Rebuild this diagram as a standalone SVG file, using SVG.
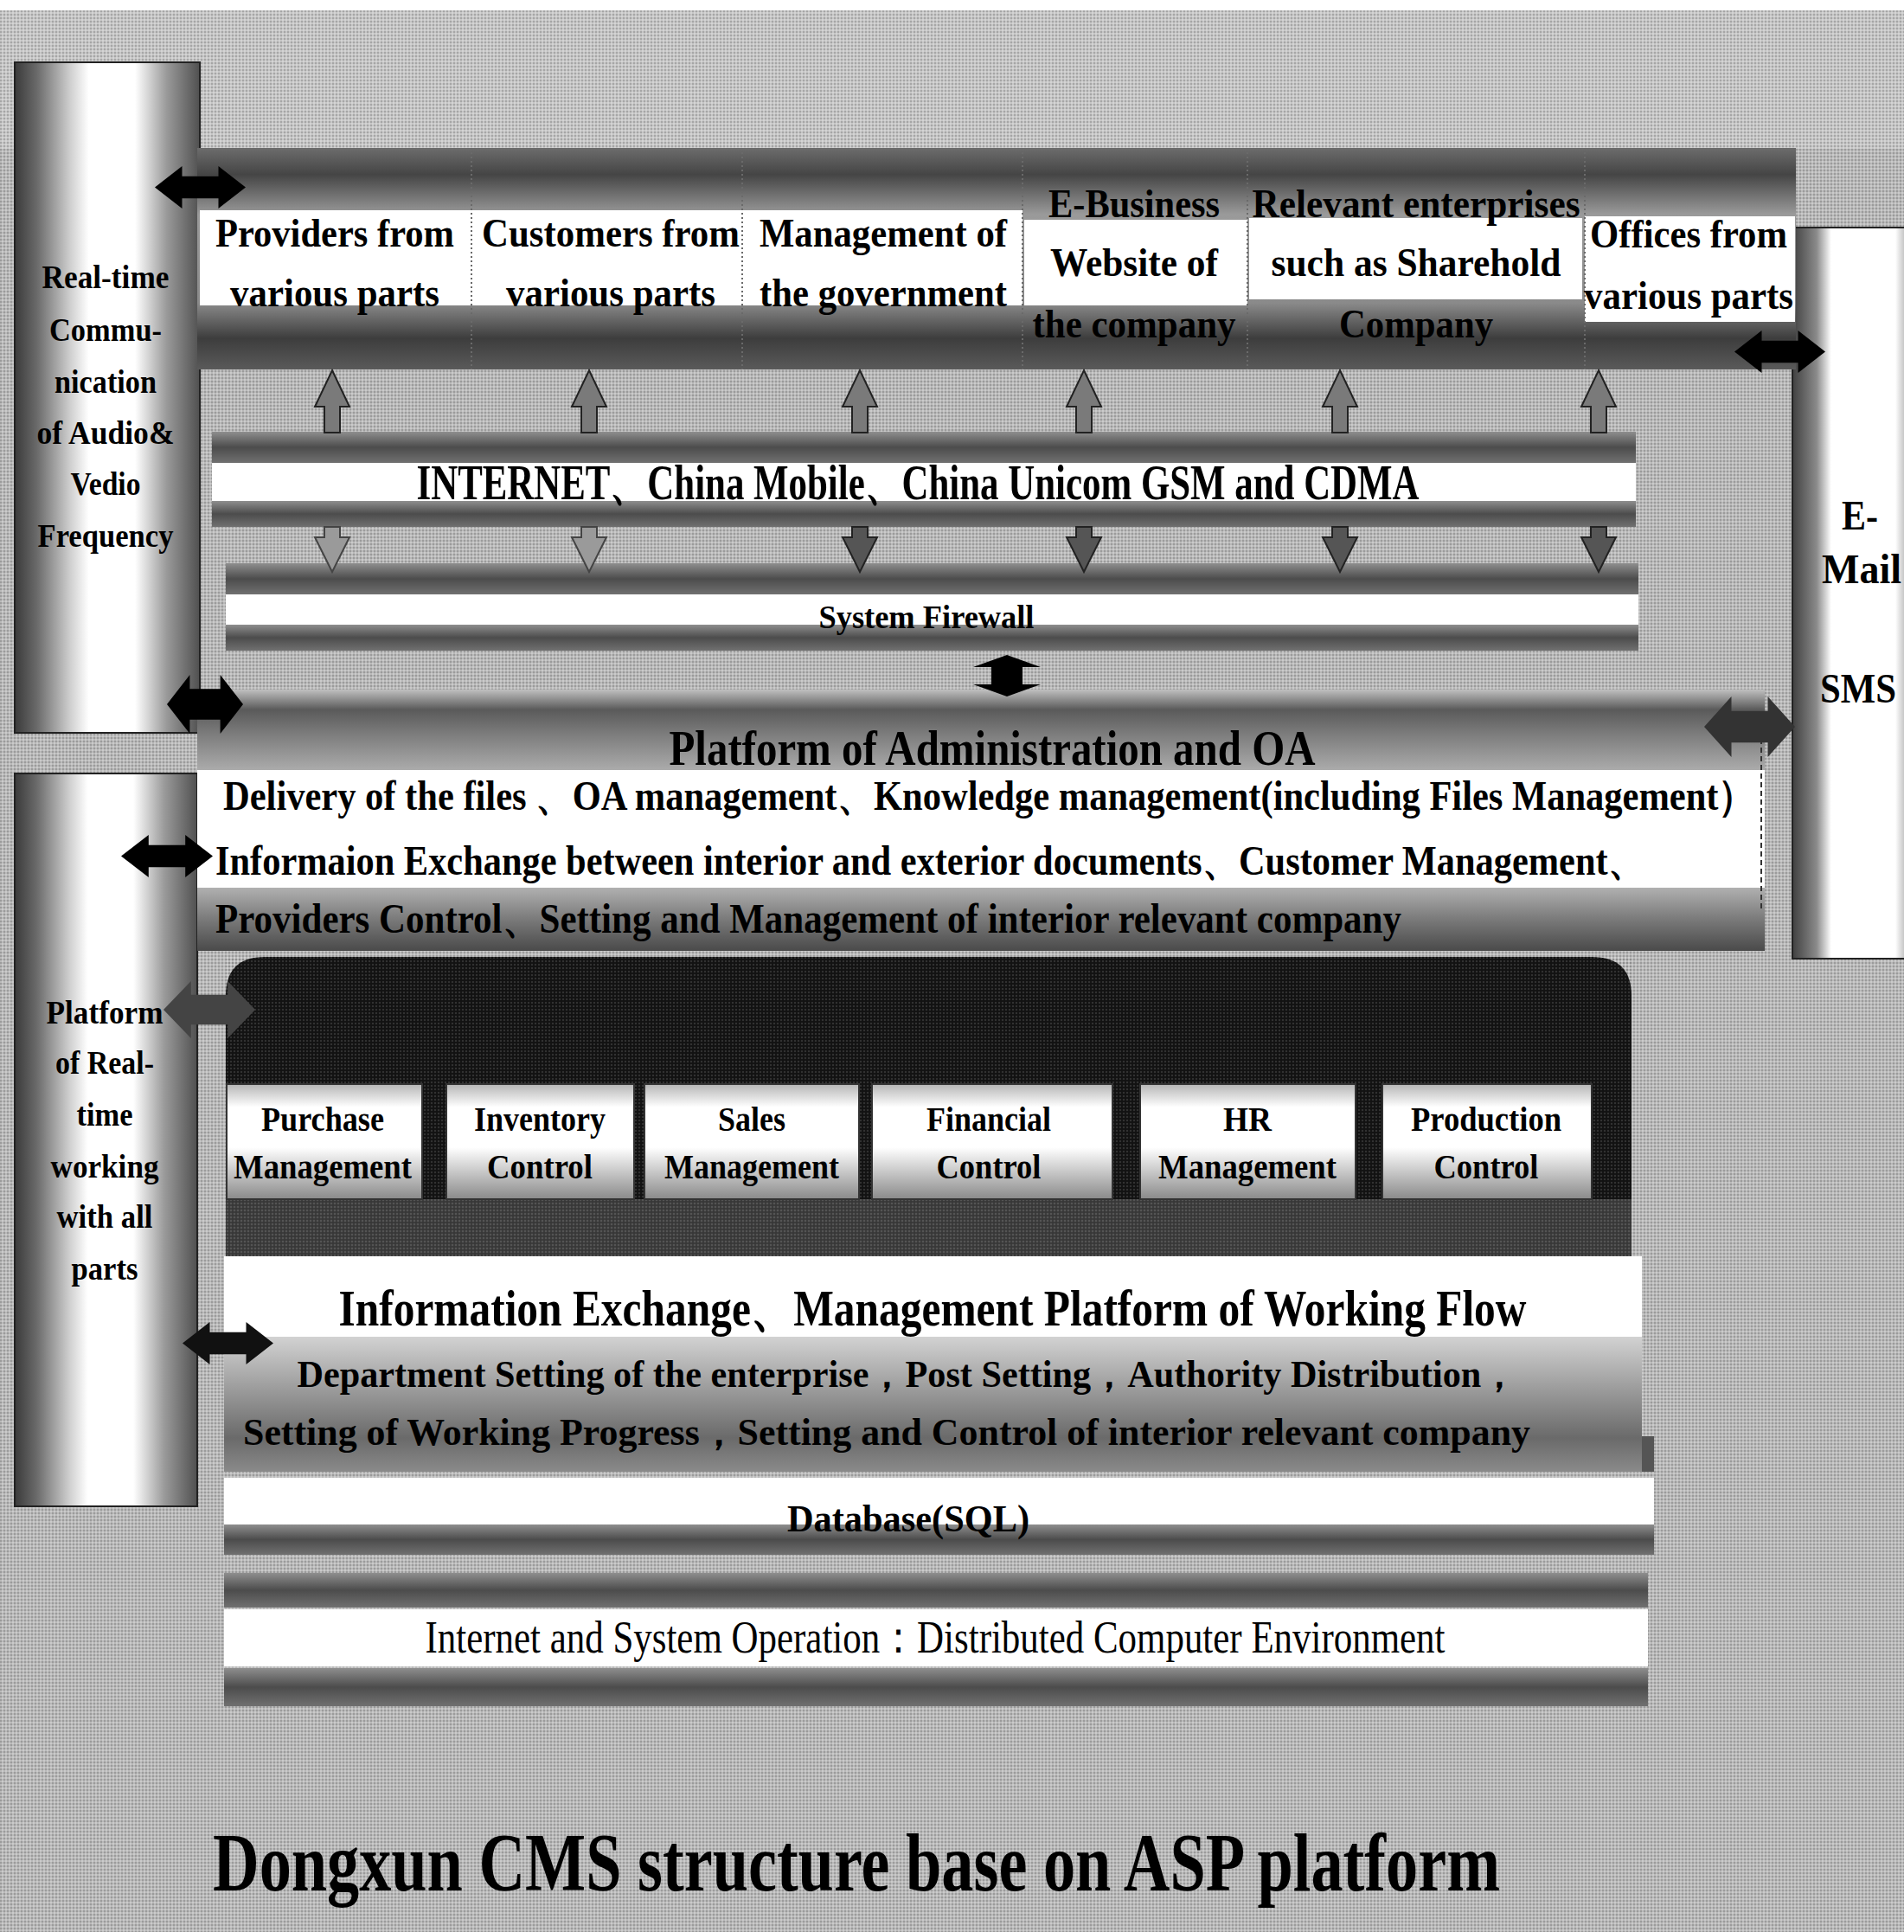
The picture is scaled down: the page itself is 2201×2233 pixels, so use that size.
<svg xmlns="http://www.w3.org/2000/svg" xmlns:xlink="http://www.w3.org/1999/xlink" width="2201" height="2233" viewBox="0 0 2201 2233">
<style>
.t{font-family:"Liberation Serif","Times New Roman",serif;font-weight:bold;fill:#000;text-anchor:middle}
.tl{font-family:"Liberation Serif","Times New Roman",serif;font-weight:bold;fill:#000;text-anchor:start}
.tr{font-family:"Liberation Serif","Times New Roman",serif;font-weight:normal;fill:#000;text-anchor:middle}
.wbox{fill:#fff}
.sep{stroke:#6a6a6a;stroke-width:2;stroke-dasharray:2 3;fill:none}
.blk{fill:#000}
.up{fill:#7a7a7a;stroke:#222;stroke-width:2}
.dnl{fill:#9a9a9a;stroke:#444;stroke-width:2}
.dnd{fill:#555;stroke:#222;stroke-width:2}
</style>
<defs>
<pattern id="ht" width="4" height="4" patternUnits="userSpaceOnUse">
<rect x="0" y="0" width="2" height="2" fill="#000" opacity="0.16"/>
<rect x="2" y="2" width="2" height="2" fill="#fff" opacity="0.25"/>
</pattern>
<linearGradient id="vcol" x1="0" y1="0" x2="1" y2="0">
<stop offset="0" stop-color="#3a3a3a"/><stop offset="0.12" stop-color="#6a6a6a"/><stop offset="0.3" stop-color="#cfcfcf"/><stop offset="0.4" stop-color="#fff"/><stop offset="0.65" stop-color="#fff"/><stop offset="0.82" stop-color="#9a9a9a"/><stop offset="1" stop-color="#505050"/>
</linearGradient>
<linearGradient id="rcol" x1="0" y1="0" x2="1" y2="0">
<stop offset="0" stop-color="#404040"/><stop offset="0.2" stop-color="#8a8a8a"/><stop offset="0.32" stop-color="#fff"/><stop offset="0.85" stop-color="#fff"/><stop offset="1" stop-color="#8a8a8a"/>
</linearGradient>
<linearGradient id="topband" x1="0" y1="0" x2="0" y2="1">
<stop offset="0" stop-color="#6c6c6c"/><stop offset="0.12" stop-color="#454545"/><stop offset="0.3" stop-color="#9a9a9a"/><stop offset="0.7" stop-color="#8a8a8a"/><stop offset="0.86" stop-color="#3d3d3d"/><stop offset="1" stop-color="#5a5a5a"/>
</linearGradient>
<linearGradient id="strip" x1="0" y1="0" x2="0" y2="1">
<stop offset="0" stop-color="#8e8e8e"/><stop offset="0.5" stop-color="#4c4c4c"/><stop offset="1" stop-color="#707070"/>
</linearGradient>
<linearGradient id="ptop" x1="0" y1="0" x2="0" y2="1">
<stop offset="0" stop-color="#c0c0c0"/><stop offset="0.25" stop-color="#5a5a5a"/><stop offset="0.55" stop-color="#7c7c7c"/><stop offset="1" stop-color="#ababab"/>
</linearGradient>
<linearGradient id="pbot" x1="0" y1="0" x2="0" y2="1">
<stop offset="0" stop-color="#b0b0b0"/><stop offset="0.5" stop-color="#7a7a7a"/><stop offset="1" stop-color="#4a4a4a"/>
</linearGradient>
<linearGradient id="ibot" x1="0" y1="0" x2="0" y2="1">
<stop offset="0" stop-color="#d2d2d2"/><stop offset="0.4" stop-color="#9a9a9a"/><stop offset="0.75" stop-color="#6a6a6a"/><stop offset="1" stop-color="#8a8a8a"/>
</linearGradient>
<linearGradient id="mod" x1="0" y1="0" x2="0" y2="1">
<stop offset="0" stop-color="#b5b5b5"/><stop offset="0.2" stop-color="#fff"/><stop offset="0.55" stop-color="#fff"/><stop offset="1" stop-color="#8a8a8a"/>
</linearGradient>
<path id="dbl" d="M0,25 L30,0 L30,12 L70,12 L70,0 L100,25 L70,50 L70,38 L30,38 L30,50 Z"/>
<path id="uparr" d="M0,0 L20,42 L9,42 L9,72 L-9,72 L-9,42 L-20,42 Z"/>
<path id="dnarr" d="M-9,0 L9,0 L9,12 L20,12 L0,52 L-20,12 L-9,12 Z"/>
</defs>

<g id="background">
<rect x="0" y="0" width="2201" height="2233" fill="#fff"/>
<rect x="0" y="12" width="2201" height="2221" fill="#b9b9b9"/>
<rect x="0" y="12" width="2201" height="160" fill="#c6c6c6"/>
<rect x="0" y="12" width="2201" height="2221" fill="url(#ht)"/>
</g>

<g id="col-realtime">
<rect x="17" y="72" width="214" height="775" fill="url(#vcol)" stroke="#222" stroke-width="2"/>
<text class="t" x="122" y="333" font-size="37" textLength="147" lengthAdjust="spacingAndGlyphs">Real-time</text>
<text class="t" x="122" y="394" font-size="37" textLength="130" lengthAdjust="spacingAndGlyphs">Commu-</text>
<text class="t" x="122" y="454" font-size="37" textLength="118" lengthAdjust="spacingAndGlyphs">nication</text>
<text class="t" x="122" y="513" font-size="37" textLength="159" lengthAdjust="spacingAndGlyphs">of Audio&amp;</text>
<text class="t" x="122" y="572" font-size="37" textLength="81" lengthAdjust="spacingAndGlyphs">Vedio</text>
<text class="t" x="122" y="632" font-size="37" textLength="157" lengthAdjust="spacingAndGlyphs">Frequency</text>
</g>

<g id="col-platform">
<rect x="17" y="894" width="211" height="847" fill="url(#vcol)" stroke="#222" stroke-width="2"/>
<text class="t" x="121" y="1183" font-size="37" textLength="135" lengthAdjust="spacingAndGlyphs">Platform</text>
<text class="t" x="121" y="1241" font-size="37" textLength="114" lengthAdjust="spacingAndGlyphs">of Real-</text>
<text class="t" x="121" y="1301" font-size="37" textLength="65" lengthAdjust="spacingAndGlyphs">time</text>
<text class="t" x="121" y="1361" font-size="37" textLength="125" lengthAdjust="spacingAndGlyphs">working</text>
<text class="t" x="121" y="1419" font-size="37" textLength="111" lengthAdjust="spacingAndGlyphs">with all</text>
<text class="t" x="121" y="1479" font-size="37" textLength="77" lengthAdjust="spacingAndGlyphs">parts</text>
</g>

<g id="col-email">
<rect x="2072" y="263" width="140" height="845" fill="url(#rcol)" stroke="#222" stroke-width="2"/>
<text class="t" x="2150" y="612" font-size="48" textLength="42" lengthAdjust="spacingAndGlyphs">E-</text>
<text class="t" x="2152" y="674" font-size="48" textLength="92" lengthAdjust="spacingAndGlyphs">Mail</text>
<text class="t" x="2148" y="812" font-size="48" textLength="88" lengthAdjust="spacingAndGlyphs">SMS</text>
</g>

<g id="top-band">
<rect x="228" y="171" width="1848" height="256" fill="url(#topband)"/>
<rect class="wbox" x="231" y="243" width="951" height="110"/>
<rect class="wbox" x="1184" y="254" width="258" height="99"/>
<rect class="wbox" x="1444" y="252" width="385" height="94"/>
<rect class="wbox" x="1832" y="250" width="243" height="122"/>
<line class="sep" x1="545" y1="171" x2="545" y2="427"/>
<line class="sep" x1="858" y1="171" x2="858" y2="427"/>
<line class="sep" x1="1182" y1="171" x2="1182" y2="427"/>
<line class="sep" x1="1442" y1="171" x2="1442" y2="427"/>
<line class="sep" x1="1832" y1="171" x2="1832" y2="427"/>
</g>

<g id="node-providers">
<text class="t" x="387" y="285" font-size="47" textLength="276" lengthAdjust="spacingAndGlyphs">Providers from</text>
<text class="t" x="387" y="354" font-size="47" textLength="242" lengthAdjust="spacingAndGlyphs">various parts</text>
</g>
<g id="node-customers">
<text class="t" x="706" y="285" font-size="47" textLength="298" lengthAdjust="spacingAndGlyphs">Customers from</text>
<text class="t" x="706" y="354" font-size="47" textLength="242" lengthAdjust="spacingAndGlyphs">various parts</text>
</g>
<g id="node-government">
<text class="t" x="1021" y="285" font-size="47" textLength="286" lengthAdjust="spacingAndGlyphs">Management of</text>
<text class="t" x="1021" y="354" font-size="47" textLength="286" lengthAdjust="spacingAndGlyphs">the government</text>
</g>
<g id="node-ebusiness">
<text class="t" x="1311" y="251" font-size="47" textLength="198" lengthAdjust="spacingAndGlyphs">E-Business</text>
<text class="t" x="1311" y="319" font-size="47" textLength="194" lengthAdjust="spacingAndGlyphs">Website of</text>
<text class="t" x="1311" y="390" font-size="47" textLength="235" lengthAdjust="spacingAndGlyphs">the company</text>
</g>
<g id="node-relevant">
<text class="t" x="1637" y="251" font-size="47" textLength="379" lengthAdjust="spacingAndGlyphs">Relevant enterprises</text>
<text class="t" x="1637" y="319" font-size="47" textLength="335" lengthAdjust="spacingAndGlyphs">such as Sharehold</text>
<text class="t" x="1637" y="390" font-size="47" textLength="178" lengthAdjust="spacingAndGlyphs">Company</text>
</g>
<g id="node-offices">
<text class="t" x="1952" y="286" font-size="47" textLength="228" lengthAdjust="spacingAndGlyphs">Offices from</text>
<text class="t" x="1952" y="357" font-size="47" textLength="242" lengthAdjust="spacingAndGlyphs">various parts</text>
</g>

<g id="node-internet">
<rect x="245" y="499" width="1646" height="36" fill="url(#strip)"/>
<rect class="wbox" x="245" y="535" width="1646" height="44"/>
<rect x="245" y="579" width="1646" height="30" fill="url(#strip)"/>
<text class="t" x="1061" y="577" font-size="56" textLength="1159" lengthAdjust="spacingAndGlyphs">INTERNET、China Mobile、China Unicom GSM and CDMA</text>
</g>

<g id="node-firewall">
<rect x="261" y="651" width="1633" height="36" fill="url(#strip)"/>
<rect class="wbox" x="261" y="687" width="1633" height="35"/>
<rect x="261" y="722" width="1633" height="30" fill="url(#strip)"/>
<text class="t" x="1071" y="726" font-size="38" textLength="249" lengthAdjust="spacingAndGlyphs">System Firewall</text>
</g>

<g id="node-admin">
<rect x="228" y="797" width="1812" height="93" fill="url(#ptop)"/>
<rect class="wbox" x="228" y="890" width="1812" height="136"/>
<rect x="228" y="1026" width="1812" height="73" fill="url(#pbot)"/>
<line x1="2036" y1="854" x2="2036" y2="1054" stroke="#333" stroke-width="2" stroke-dasharray="6 4"/>
<text class="t" x="1147" y="884" font-size="58" textLength="747" lengthAdjust="spacingAndGlyphs">Platform of Administration and OA</text>
<text class="tl" x="258" y="936" font-size="48" textLength="1771" lengthAdjust="spacingAndGlyphs">Delivery of the files 、OA management、Knowledge management(including Files Management）</text>
<text class="tl" x="249" y="1011" font-size="48" textLength="1652" lengthAdjust="spacingAndGlyphs">Informaion Exchange between interior and exterior documents、Customer Management、</text>
<text class="tl" x="249" y="1078" font-size="48" textLength="1371" lengthAdjust="spacingAndGlyphs" fill="#222">Providers Control、Setting and Management of interior relevant company</text>
</g>

<g id="node-business">
<path d="M261,1452 L261,1151 Q261,1106 306,1106 L1840,1106 Q1886,1106 1886,1151 L1886,1452 Z" fill="#141414"/>
<rect x="261" y="1386" width="1625" height="66" fill="#3c3c3c"/>
<rect x="261" y="1106" width="1625" height="346" fill="url(#ht)" opacity="0.5"/>
</g>

<g id="node-purchase">
<rect x="262" y="1253" width="226" height="133" fill="url(#mod)" stroke="#333" stroke-width="2"/>
<text class="t" x="373" y="1307" font-size="40" textLength="142" lengthAdjust="spacingAndGlyphs">Purchase</text>
<text class="t" x="373" y="1362" font-size="40" textLength="206" lengthAdjust="spacingAndGlyphs">Management</text>
</g>
<g id="node-inventory">
<rect x="516" y="1253" width="217" height="133" fill="url(#mod)" stroke="#333" stroke-width="2"/>
<text class="t" x="624" y="1307" font-size="40" textLength="152" lengthAdjust="spacingAndGlyphs">Inventory</text>
<text class="t" x="624" y="1362" font-size="40" textLength="122" lengthAdjust="spacingAndGlyphs">Control</text>
</g>
<g id="node-sales">
<rect x="745" y="1253" width="248" height="133" fill="url(#mod)" stroke="#333" stroke-width="2"/>
<text class="t" x="869" y="1307" font-size="40" textLength="78" lengthAdjust="spacingAndGlyphs">Sales</text>
<text class="t" x="869" y="1362" font-size="40" textLength="202" lengthAdjust="spacingAndGlyphs">Management</text>
</g>
<g id="node-financial">
<rect x="1008" y="1253" width="278" height="133" fill="url(#mod)" stroke="#333" stroke-width="2"/>
<text class="t" x="1143" y="1307" font-size="40" textLength="144" lengthAdjust="spacingAndGlyphs">Financial</text>
<text class="t" x="1143" y="1362" font-size="40" textLength="121" lengthAdjust="spacingAndGlyphs">Control</text>
</g>
<g id="node-hr">
<rect x="1318" y="1253" width="249" height="133" fill="url(#mod)" stroke="#333" stroke-width="2"/>
<text class="t" x="1442" y="1307" font-size="40" textLength="56" lengthAdjust="spacingAndGlyphs">HR</text>
<text class="t" x="1442" y="1362" font-size="40" textLength="206" lengthAdjust="spacingAndGlyphs">Management</text>
</g>
<g id="node-production">
<rect x="1598" y="1253" width="242" height="133" fill="url(#mod)" stroke="#333" stroke-width="2"/>
<text class="t" x="1718" y="1307" font-size="40" textLength="174" lengthAdjust="spacingAndGlyphs">Production</text>
<text class="t" x="1718" y="1362" font-size="40" textLength="121" lengthAdjust="spacingAndGlyphs">Control</text>
</g>

<g id="node-workflow">
<rect class="wbox" x="259" y="1452" width="1639" height="93"/>
<rect x="259" y="1545" width="1639" height="156" fill="url(#ibot)"/>
<rect x="1898" y="1660" width="14" height="41" fill="#555"/>
<text class="t" x="1078" y="1532" font-size="60" textLength="1373" lengthAdjust="spacingAndGlyphs">Information Exchange、Management Platform of Working Flow</text>
<text class="t" x="1049" y="1603" font-size="44" textLength="1411" lengthAdjust="spacingAndGlyphs">Department Setting of the enterprise，Post Setting，Authority Distribution，</text>
<text class="t" x="1025" y="1670" font-size="44" textLength="1488" lengthAdjust="spacingAndGlyphs" fill="#222">Setting of Working Progress，Setting and Control of  interior relevant  company</text>
</g>

<g id="node-database">
<rect class="wbox" x="259" y="1708" width="1653" height="54"/>
<rect x="259" y="1762" width="1653" height="35" fill="url(#strip)"/>
<text class="t" x="1050" y="1770" font-size="44" textLength="280" lengthAdjust="spacingAndGlyphs">Database(SQL)</text>
</g>

<g id="node-environment">
<rect x="259" y="1818" width="1646" height="40" fill="url(#strip)"/>
<rect class="wbox" x="259" y="1860" width="1646" height="66"/>
<rect x="259" y="1928" width="1646" height="44" fill="url(#strip)"/>
<text class="tr" x="1081" y="1910" font-size="52" textLength="1179" lengthAdjust="spacingAndGlyphs">Internet and System Operation：Distributed Computer Environment</text>
</g>

<g id="connectors">
<use href="#uparr" x="384" y="428" class="up"/>
<use href="#uparr" x="681" y="428" class="up"/>
<use href="#uparr" x="994" y="428" class="up"/>
<use href="#uparr" x="1253" y="428" class="up"/>
<use href="#uparr" x="1549" y="428" class="up"/>
<use href="#uparr" x="1848" y="428" class="up"/>
<use href="#dnarr" x="384" y="609" class="dnl"/>
<use href="#dnarr" x="681" y="609" class="dnl"/>
<use href="#dnarr" x="994" y="609" class="dnd"/>
<use href="#dnarr" x="1253" y="609" class="dnd"/>
<use href="#dnarr" x="1549" y="609" class="dnd"/>
<use href="#dnarr" x="1848" y="609" class="dnd"/>
<path class="blk" d="M1164,757 L1203,771 L1182,771 L1182,791 L1203,791 L1164,805 L1125,791 L1146,791 L1146,771 L1125,771 Z"/>
<use href="#dbl" class="blk" transform="translate(179,192) scale(1.05,0.98)"/>
<use href="#dbl" class="blk" transform="translate(2005,382) scale(1.05,0.98)"/>
<use href="#dbl" class="blk" transform="translate(193,780) scale(0.88,1.36)"/>
<use href="#dbl" fill="#333" transform="translate(1970,805) scale(1.05,1.4)"/>
<use href="#dbl" class="blk" transform="translate(140,965) scale(1.06,0.98)"/>
<use href="#dbl" fill="#444" transform="translate(189,1134) scale(1.06,1.32)"/>
<use href="#dbl" fill="#111" transform="translate(211,1528) scale(1.05,0.98)"/>
</g>

<g id="title">
<text class="t" x="990" y="2185" font-size="96" textLength="1488" lengthAdjust="spacingAndGlyphs">Dongxun CMS structure base on ASP platform</text>
</g>
</svg>
